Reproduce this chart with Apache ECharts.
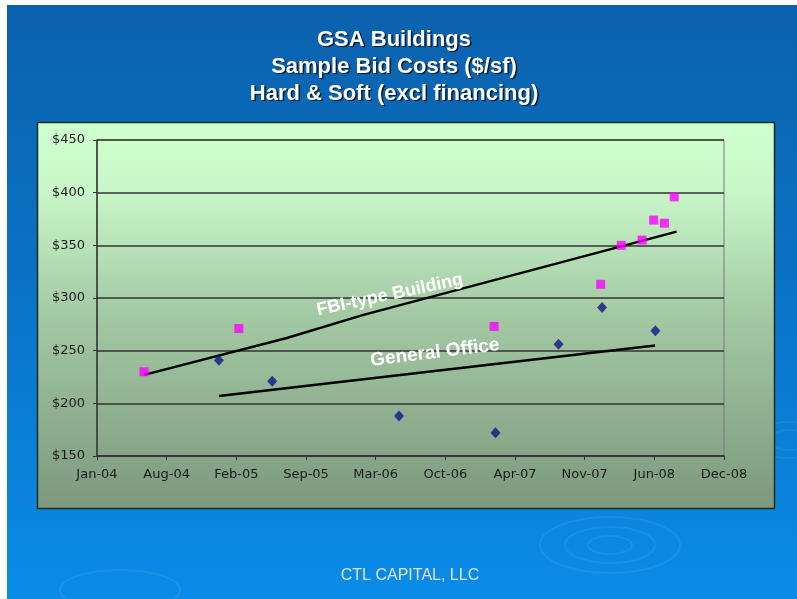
<!DOCTYPE html>
<html><head><meta charset="utf-8">
<script src="https://cdn.jsdelivr.net/npm/echarts@6/dist/echarts.min.js"></script>
<style>html,body{margin:0;padding:0;background:#fff}#c{width:797px;height:599px}</style>
</head><body><div id="c"></div>
<script>
// ---- data (x = days from axis start, Jan-04; y = $/sf) ----
const xTickLabels = ['Jan-04','Aug-04','Feb-05','Sep-05','Mar-06','Oct-06','Apr-07','Nov-07','Jun-08','Dec-08'];
const fbiDays = [135, 407, 1140, 1446, 1505, 1565, 1598, 1629, 1657];
const fbiCost = [230, 271, 273, 313, 350, 355, 374, 371, 396];
const officeDays = [350, 503, 867, 1144, 1325, 1450, 1603];
const officeCost = [241, 221, 188, 172, 256, 291, 269];
const fbiTrendDays = [135, 545, 765, 1664];
const fbiTrendCost = [227, 262, 284, 363];
const officeTrendDays = [350, 1602];
const officeTrendCost = [207, 255];
const trendLabels = ['FBI-type Building', 'General Office'];

const pairs = (xs, ys) => xs.map((x, i) => [x, ys[i]]);
const chart = echarts.init(document.getElementById('c'), null, {renderer: 'canvas'});
const labelFont = 'DejaVu Sans, Arial, sans-serif';

chart.setOption({
  backgroundColor: '#ffffff',
  animation: false,
  title: {
    text: 'GSA Buildings\nSample Bid Costs ($/sf)\nHard & Soft (excl financing)',
    left: 389, top: 21, textAlign: 'center',
    textStyle: {
      color: '#ffffff', fontFamily: 'Liberation Sans, Arial, sans-serif', fontWeight: 'bold',
      fontSize: 22, lineHeight: 27,
      textShadowColor: 'rgba(0,0,0,0.8)', textShadowOffsetX: 1.5, textShadowOffsetY: 1.5, textShadowBlur: 1
    }
  },
  grid: {left: 97, top: 140, width: 627, height: 316, containLabel: false,
         show: true, borderColor: '#7a7a7a', borderWidth: 1, backgroundColor: 'transparent'},
  xAxis: {
    type: 'value', min: 0, max: 1800, interval: 200,
    axisLine: {show: true, lineStyle: {color: '#333', width: 1.5}},
    axisTick: {show: true, length: 4, lineStyle: {color: '#333'}},
    splitLine: {show: false},
    axisLabel: {margin: 12, color: '#1a1a1a', fontFamily: labelFont, fontSize: 13,
      showMinLabel: true, showMaxLabel: true,
      formatter: v => xTickLabels[Math.round(v / 200)]}
  },
  yAxis: {
    type: 'value', min: 150, max: 450, interval: 50,
    axisLine: {show: true, lineStyle: {color: '#333', width: 1.5}},
    axisTick: {show: true, length: 4, lineStyle: {color: '#333'}},
    splitLine: {show: true, lineStyle: {color: '#333', width: 1.5}},
    axisLabel: {margin: 12, color: '#1a1a1a', fontFamily: labelFont, fontSize: 13,
      formatter: v => '$' + v}
  },
  series: [
    {type: 'line', data: pairs(fbiTrendDays, fbiTrendCost), symbol: 'none',
     lineStyle: {color: '#000', width: 2.5}, z: 3},
    {type: 'line', data: pairs(officeTrendDays, officeTrendCost), symbol: 'none',
     lineStyle: {color: '#000', width: 2.5}, z: 3},
    {type: 'scatter', data: pairs(fbiDays, fbiCost), symbol: 'rect', symbolSize: 9,
     itemStyle: {color: '#ff00ff'}, z: 4},
    {type: 'scatter', data: pairs(officeDays, officeCost), symbol: 'diamond', symbolSize: [10, 11],
     itemStyle: {color: '#14148a'}, z: 4}
  ]
});

const p1 = chart.convertToPixel({gridIndex: 0}, [841, 303]);
const p2 = chart.convertToPixel({gridIndex: 0}, [970, 248]);

const ripple = (cx, cy, rx, ry) => ({type: 'ellipse', z: -90, silent: true,
  shape: {cx: cx, cy: cy, rx: rx, ry: ry},
  style: {fill: 'none', stroke: 'rgba(255,255,255,0.07)', lineWidth: 2}});

chart.setOption({
  graphic: [
    {type: 'rect', z: -100, silent: true, shape: {x: 7, y: 5, width: 790, height: 594},
     style: {fill: new echarts.graphic.LinearGradient(0, 0, 0, 1, [
       {offset: 0, color: '#0b61ad'}, {offset: 0.5, color: '#0a74c8'}, {offset: 1, color: '#0a8ce8'}])}},
    ripple(610, 545, 70, 28), ripple(610, 545, 45, 18), ripple(610, 545, 22, 9),
    ripple(790, 440, 40, 18), ripple(790, 440, 22, 10),
    ripple(120, 590, 60, 20),
    {type: 'rect', z: -80, silent: true, shape: {x: 37.5, y: 122.5, width: 737, height: 386},
     style: {fill: new echarts.graphic.LinearGradient(0, 0, 0, 1, [
       {offset: 0, color: '#cfffcf'}, {offset: 0.18, color: '#c8f6c8'},
       {offset: 0.5, color: '#a3c9a3'}, {offset: 1, color: '#7c987d'}]),
       stroke: '#1c2b1c', lineWidth: 1.5}},
    {type: 'text', z: 10, silent: true, x: p1[0], y: p1[1], rotation: 12 * Math.PI / 180,
     style: {text: trendLabels[0], fill: '#ffffff', font: 'bold 18px Liberation Sans, Arial, sans-serif',
       align: 'center', verticalAlign: 'middle'}},
    {type: 'text', z: 10, silent: true, x: p2[0], y: p2[1], rotation: 7 * Math.PI / 180,
     style: {text: trendLabels[1], fill: '#ffffff', font: 'bold 19px Liberation Sans, Arial, sans-serif',
       align: 'center', verticalAlign: 'middle'}},
    {type: 'text', z: 10, silent: true, x: 410, y: 576,
     style: {text: 'CTL CAPITAL, LLC', fill: '#dde6f0', font: '16px Liberation Sans, Arial, sans-serif',
       align: 'center', verticalAlign: 'middle',
       shadowColor: 'rgba(0,0,0,0.5)', shadowOffsetX: 1, shadowOffsetY: 1, shadowBlur: 1}}
  ]
});
</script></body></html>
